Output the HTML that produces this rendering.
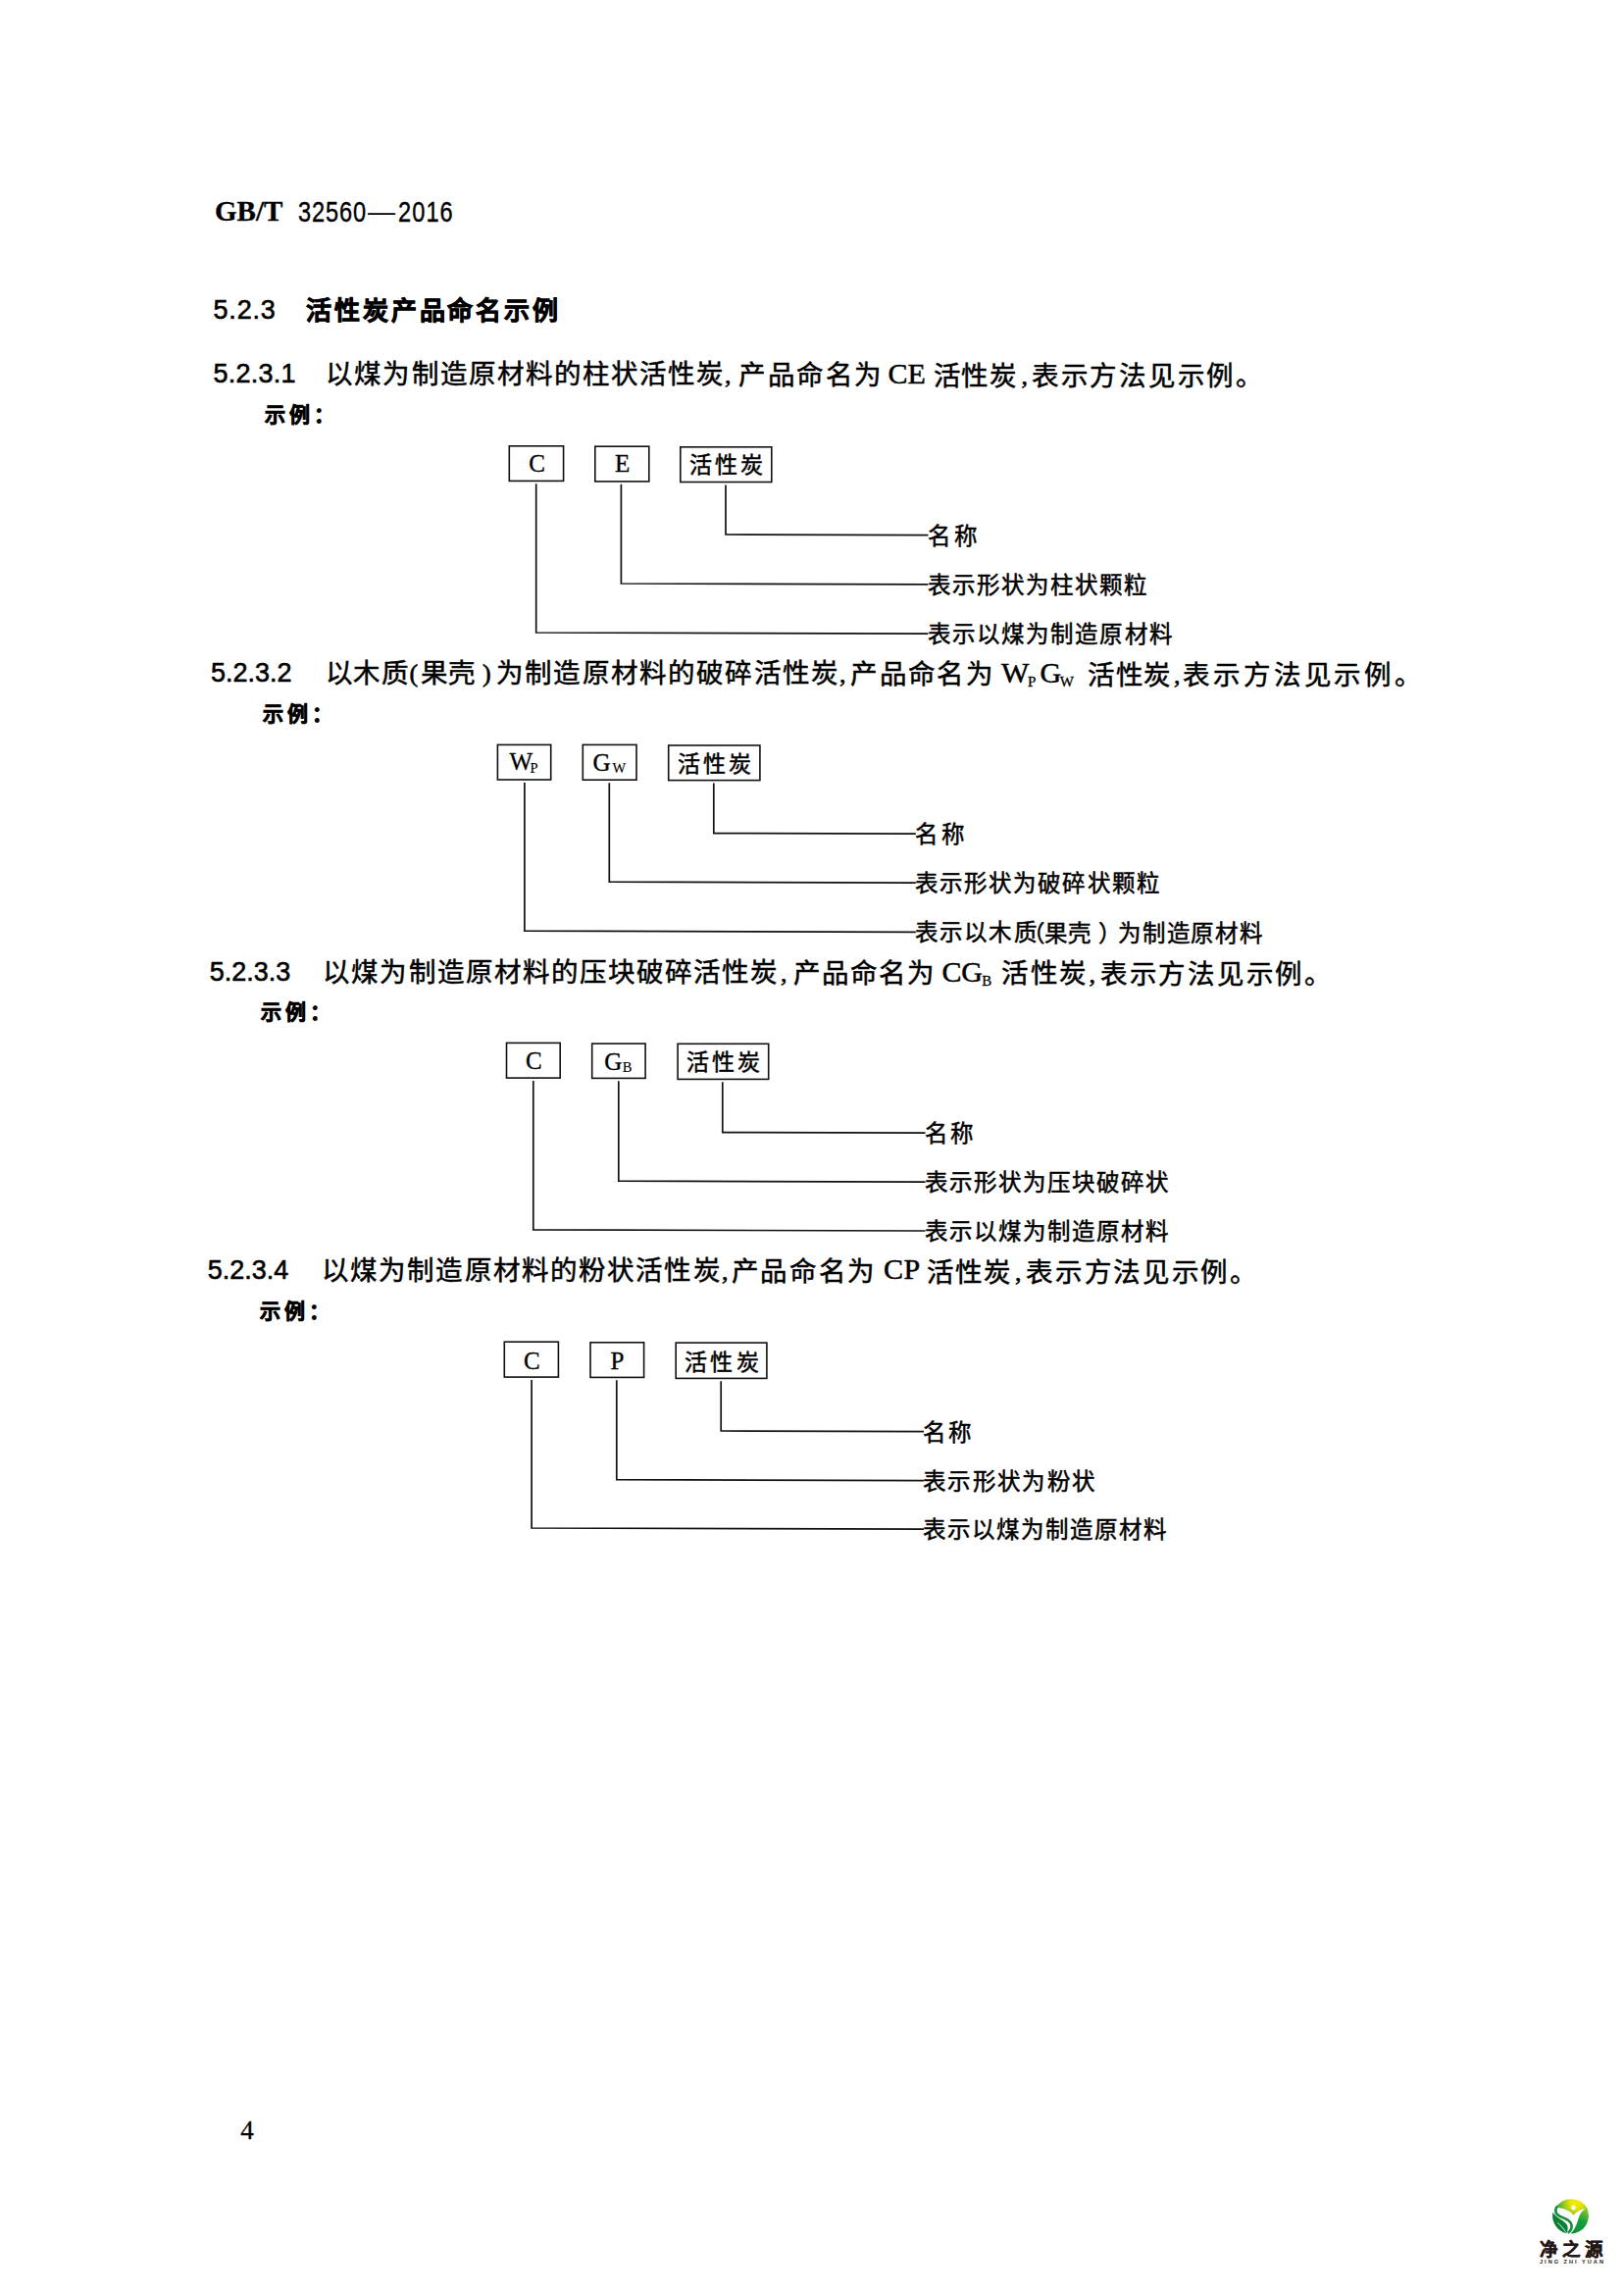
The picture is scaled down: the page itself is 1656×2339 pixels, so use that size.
<!DOCTYPE html>
<html lang="zh-CN"><head><meta charset="utf-8"><style>
html,body{margin:0;padding:0;background:#fff;}
body{width:1656px;height:2339px;position:relative;overflow:hidden;}
div{position:absolute;white-space:nowrap;color:#000;line-height:1;}
.gbt{font-family:"Liberation Serif",serif;font-weight:bold;font-size:29px;-webkit-text-stroke:0.3px #000;}
.gbn{font-family:"Liberation Sans",sans-serif;font-size:29.5px;-webkit-text-stroke:0.4px #000;transform:scaleX(0.8);transform-origin:0 0;}
.gbd{font-family:"Liberation Sans",sans-serif;font-size:28px;}
.num{font-family:"Liberation Sans",sans-serif;font-size:27px;-webkit-text-stroke:0.6px #000;}
.head{font-family:"Liberation Sans",sans-serif;font-size:26px;font-weight:bold;letter-spacing:3px;-webkit-text-stroke:0.7px #000;}
.ex{font-family:"Liberation Sans",sans-serif;font-size:21px;font-weight:bold;letter-spacing:4px;-webkit-text-stroke:0.7px #000;}
.body{font-family:"Liberation Serif",serif;font-size:27.5px;letter-spacing:1.5px;-webkit-text-stroke:0.5px #000;}
.comma,.paren{font-family:"Liberation Serif",serif;font-size:26px;-webkit-text-stroke:0.6px #000;}
.lat{font-family:"Liberation Serif",serif;font-size:30px;-webkit-text-stroke:0.5px #000;}
.sub{font-family:"Liberation Serif",serif;font-size:15px;-webkit-text-stroke:0.3px #000;}
.label{font-family:"Liberation Serif",serif;font-size:23.5px;letter-spacing:1.2px;-webkit-text-stroke:0.5px #000;}
.blat{font-family:"Liberation Serif",serif;font-size:25px;-webkit-text-stroke:0.35px #000;}
.bsub{font-family:"Liberation Serif",serif;font-size:14.5px;-webkit-text-stroke:0.15px #000;}
.bcjk{font-family:"Liberation Serif",serif;font-size:23px;letter-spacing:1.5px;-webkit-text-stroke:0.5px #000;}
.r{background:#111;}
.bx{border:2px solid #111;}
.lgc{font-family:"Liberation Sans",sans-serif;font-size:18.5px;font-weight:bold;color:#231815;letter-spacing:2.5px;-webkit-text-stroke:0.4px #231815;}
.lge{font-family:"Liberation Sans",sans-serif;font-size:5.6px;font-weight:bold;color:#231815;letter-spacing:2px;}
.pg{font-family:"Liberation Serif",serif;font-size:27px;-webkit-text-stroke:0.3px #000;}
</style></head><body>
<div class="gbt" style="left:219.0px;top:201.0px;">GB/T</div>
<div class="gbn" style="left:304.0px;top:201.0px;letter-spacing:1.10px;">32560</div>
<div class="gbd" style="left:375.0px;top:202.0px;">—</div>
<div class="gbn" style="left:406.0px;top:201.0px;letter-spacing:1.33px;">2016</div>
<div class="num" style="left:217.5px;top:303.0px;letter-spacing:0.83px;">5.2.3</div>
<div class="head" style="left:312.0px;top:303.5px;letter-spacing:2.88px;">活性炭产品命名示例</div>
<div class="num" style="left:217.5px;top:368.0px;letter-spacing:0.25px;">5.2.3.1</div>
<div class="ex" style="left:269.7px;top:411.6px;">示例：</div>
<div class="body" style="left:332.4px;top:368.3px;letter-spacing:2.05px;">以煤为制造原材料的柱状活性炭</div>
<div class="comma" style="left:739.0px;top:370.4px;">,</div>
<div class="body" style="left:753.0px;top:369.4px;letter-spacing:2.60px;">产品命名为</div>
<div class="lat" style="left:905.5px;top:366.1px;letter-spacing:0.10px;">CE</div>
<div class="body" style="left:951.7px;top:370.0px;letter-spacing:1.65px;">活性炭</div>
<div class="comma" style="left:1041.6px;top:371.3px;">,</div>
<div class="body" style="left:1052.0px;top:370.3px;letter-spacing:2.71px;">表示方法见示例。</div>
<div class="blat" style="left:539.3px;top:459.6px;">C</div>
<div class="blat" style="left:627.0px;top:460.0px;">E</div>
<div class="bcjk" style="left:703.0px;top:463.0px;letter-spacing:3.00px;">活性炭</div>
<div class="label" style="left:945.9px;top:636.1px;letter-spacing:2.08px;">表示以煤为制造原材料</div>
<div class="label" style="left:945.9px;top:585.9px;letter-spacing:2.06px;">表示形状为柱状颗粒</div>
<div class="label" style="left:945.9px;top:535.6px;letter-spacing:4.00px;">名称</div>
<div class="num" style="left:215.0px;top:673.0px;">5.2.3.2</div>
<div class="ex" style="left:267.7px;top:717.0px;">示例：</div>
<div class="body" style="left:331.8px;top:672.8px;letter-spacing:1.50px;">以木质</div>
<div class="paren" style="left:417.5px;top:674.1px;">(</div>
<div class="body" style="left:428.6px;top:673.1px;">果壳</div>
<div class="paren" style="left:492.0px;top:674.3px;">)</div>
<div class="body" style="left:506.0px;top:673.3px;letter-spacing:2.17px;">为制造原材料的破碎活性炭</div>
<div class="comma" style="left:856.0px;top:675.3px;">,</div>
<div class="body" style="left:867.4px;top:674.3px;letter-spacing:2.35px;">产品命名为</div>
<div class="lat" style="left:1020.9px;top:671.1px;">W</div>
<div class="sub" style="left:1048.0px;top:688.1px;">P</div>
<div class="lat" style="left:1060.6px;top:671.2px;">G</div>
<div class="sub" style="left:1080.7px;top:688.2px;">W</div>
<div class="body" style="left:1108.6px;top:675.0px;letter-spacing:1.95px;">活性炭</div>
<div class="comma" style="left:1197.0px;top:676.2px;">,</div>
<div class="body" style="left:1206.0px;top:675.3px;letter-spacing:3.90px;">表示方法见示例。</div>
<div class="blat" style="left:519.6px;top:764.0px;">W</div>
<div class="bsub" style="left:540.5px;top:776.0px;">P</div>
<div class="blat" style="left:604.5px;top:765.0px;">G</div>
<div class="bsub" style="left:624.6px;top:776.0px;">W</div>
<div class="bcjk" style="left:691.0px;top:768.0px;letter-spacing:3.00px;">活性炭</div>
<div class="label" style="left:933.0px;top:940.3px;letter-spacing:2.13px;">表示以木质</div>
<div class="label" style="left:1042.0px;top:940.7px;">（</div>
<div class="label" style="left:1065.0px;top:940.7px;">果壳</div>
<div class="label" style="left:1120.0px;top:940.8px;">）</div>
<div class="label" style="left:1140.0px;top:940.9px;letter-spacing:1.80px;">为制造原材料</div>
<div class="label" style="left:933.0px;top:890.1px;letter-spacing:2.08px;">表示形状为破碎状颗粒</div>
<div class="label" style="left:933.0px;top:840.2px;letter-spacing:4.20px;">名称</div>
<div class="num" style="left:213.8px;top:978.0px;">5.2.3.3</div>
<div class="ex" style="left:266.0px;top:1020.7px;">示例：</div>
<div class="body" style="left:329.3px;top:977.5px;letter-spacing:2.08px;">以煤为制造原材料的压块破碎活性炭</div>
<div class="comma" style="left:796.0px;top:979.8px;">,</div>
<div class="body" style="left:808.6px;top:978.8px;letter-spacing:2.05px;">产品命名为</div>
<div class="lat" style="left:960.4px;top:976.0px;letter-spacing:-0.20px;">CG</div>
<div class="sub" style="left:1001.2px;top:993.1px;">B</div>
<div class="body" style="left:1021.4px;top:979.4px;letter-spacing:2.25px;">活性炭</div>
<div class="comma" style="left:1110.6px;top:980.6px;">,</div>
<div class="body" style="left:1122.0px;top:979.7px;letter-spacing:2.71px;">表示方法见示例。</div>
<div class="blat" style="left:536.0px;top:1069.0px;">C</div>
<div class="blat" style="left:616.3px;top:1069.6px;">G</div>
<div class="bsub" style="left:634.8px;top:1081.3px;">B</div>
<div class="bcjk" style="left:700.0px;top:1072.0px;letter-spacing:3.00px;">活性炭</div>
<div class="label" style="left:943.2px;top:1245.0px;letter-spacing:2.01px;">表示以煤为制造原材料</div>
<div class="label" style="left:943.2px;top:1195.1px;letter-spacing:2.01px;">表示形状为压块破碎状</div>
<div class="label" style="left:943.2px;top:1145.2px;letter-spacing:3.00px;">名称</div>
<div class="num" style="left:211.8px;top:1282.3px;">5.2.3.4</div>
<div class="ex" style="left:264.5px;top:1325.7px;">示例：</div>
<div class="body" style="left:328.0px;top:1282.1px;letter-spacing:2.12px;">以煤为制造原材料的粉状活性炭</div>
<div class="comma" style="left:736.0px;top:1284.2px;">,</div>
<div class="body" style="left:745.8px;top:1283.2px;letter-spacing:2.65px;">产品命名为</div>
<div class="lat" style="left:901.0px;top:1279.3px;letter-spacing:0.50px;">CP</div>
<div class="body" style="left:945.4px;top:1283.8px;letter-spacing:1.95px;">活性炭</div>
<div class="comma" style="left:1035.0px;top:1285.1px;">,</div>
<div class="body" style="left:1046.3px;top:1284.1px;letter-spacing:2.66px;">表示方法见示例。</div>
<div class="blat" style="left:534.0px;top:1374.6px;">C</div>
<div class="blat" style="left:622.4px;top:1374.6px;">P</div>
<div class="bcjk" style="left:698.0px;top:1378.0px;letter-spacing:3.30px;">活性炭</div>
<div class="label" style="left:941.0px;top:1549.1px;letter-spacing:2.04px;">表示以煤为制造原材料</div>
<div class="label" style="left:941.0px;top:1499.6px;letter-spacing:2.32px;">表示形状为粉状</div>
<div class="label" style="left:941.0px;top:1449.6px;letter-spacing:3.30px;">名称</div>
<div class="pg" style="left:245.3px;top:2158.5px;">4</div>
<div class="lgc" style="left:1569.6px;top:2285.2px;letter-spacing:4.45px;">净之源</div>
<div class="lge" style="left:1570.0px;top:2304.0px;letter-spacing:2.00px;">JING ZHI YUAN</div>
<svg style="position:absolute;left:0;top:0" width="1656" height="2339" viewBox="0 0 1656 2339"><rect x="519.30" y="454.80" width="55.30" height="35.60" fill="none" stroke="#111" stroke-width="1.60"/><rect x="606.80" y="455.20" width="55.00" height="35.70" fill="none" stroke="#111" stroke-width="1.60"/><rect x="693.80" y="455.80" width="93.00" height="35.70" fill="none" stroke="#111" stroke-width="1.60"/><polyline points="546.7,494.2 546.7,645.0 945.6,646.1" fill="none" stroke="#111" stroke-width="1.70" stroke-linejoin="miter" stroke-linecap="square"/><polyline points="633.4,494.7 633.4,595.0 945.6,595.9" fill="none" stroke="#111" stroke-width="1.70" stroke-linejoin="miter" stroke-linecap="square"/><polyline points="740.0,495.3 740.0,545.0 945.6,545.6" fill="none" stroke="#111" stroke-width="1.70" stroke-linejoin="miter" stroke-linecap="square"/><rect x="507.40" y="759.40" width="54.30" height="35.60" fill="none" stroke="#111" stroke-width="1.60"/><rect x="594.30" y="759.40" width="54.70" height="35.80" fill="none" stroke="#111" stroke-width="1.60"/><rect x="681.70" y="760.00" width="93.20" height="35.60" fill="none" stroke="#111" stroke-width="1.60"/><polyline points="534.9,798.8 534.9,949.2 933.0,950.3" fill="none" stroke="#111" stroke-width="1.70" stroke-linejoin="miter" stroke-linecap="square"/><polyline points="621.3,799.0 621.3,899.2 933.0,900.1" fill="none" stroke="#111" stroke-width="1.70" stroke-linejoin="miter" stroke-linecap="square"/><polyline points="727.8,799.4 727.8,849.6 933.0,850.2" fill="none" stroke="#111" stroke-width="1.70" stroke-linejoin="miter" stroke-linecap="square"/><rect x="516.50" y="1063.40" width="54.70" height="35.70" fill="none" stroke="#111" stroke-width="1.60"/><rect x="603.70" y="1064.10" width="54.40" height="35.30" fill="none" stroke="#111" stroke-width="1.60"/><rect x="691.10" y="1064.30" width="92.60" height="36.10" fill="none" stroke="#111" stroke-width="1.60"/><polyline points="543.8,1102.9 543.8,1253.9 942.7,1255.0" fill="none" stroke="#111" stroke-width="1.70" stroke-linejoin="miter" stroke-linecap="square"/><polyline points="630.8,1103.2 630.8,1204.2 942.7,1205.1" fill="none" stroke="#111" stroke-width="1.70" stroke-linejoin="miter" stroke-linecap="square"/><polyline points="736.8,1104.2 736.8,1154.6 942.7,1155.2" fill="none" stroke="#111" stroke-width="1.70" stroke-linejoin="miter" stroke-linecap="square"/><rect x="514.30" y="1368.20" width="55.10" height="35.90" fill="none" stroke="#111" stroke-width="1.60"/><rect x="602.00" y="1368.80" width="54.60" height="35.60" fill="none" stroke="#111" stroke-width="1.60"/><rect x="689.20" y="1369.10" width="92.70" height="36.30" fill="none" stroke="#111" stroke-width="1.60"/><polyline points="542.1,1407.9 542.1,1558.0 941.2,1559.1" fill="none" stroke="#111" stroke-width="1.70" stroke-linejoin="miter" stroke-linecap="square"/><polyline points="628.8,1408.2 628.8,1508.7 941.2,1509.6" fill="none" stroke="#111" stroke-width="1.70" stroke-linejoin="miter" stroke-linecap="square"/><polyline points="735.2,1409.2 735.2,1459.0 941.2,1459.6" fill="none" stroke="#111" stroke-width="1.70" stroke-linejoin="miter" stroke-linecap="square"/></svg>
<svg style="position:absolute;left:1570px;top:2230px" width="60" height="55" viewBox="1570 2230 60 55">
<defs>
<radialGradient id="gy" gradientUnits="userSpaceOnUse" cx="1607" cy="2246" r="20"><stop offset="0" stop-color="#f7ea00"/><stop offset="0.3" stop-color="#e6e400"/><stop offset="0.65" stop-color="#8cc62a"/><stop offset="1" stop-color="#2f9e3a"/></radialGradient>
<linearGradient id="gr" gradientUnits="userSpaceOnUse" x1="1616" y1="2252" x2="1603" y2="2277"><stop offset="0" stop-color="#8cc82a"/><stop offset="0.45" stop-color="#16a03c"/><stop offset="1" stop-color="#0d8c3a"/></linearGradient>
</defs>
<path d="M1586.3 2251.5 A18.3 18.3 0 0 1 1618.5 2252 L1613.9 2252.6 C1610 2254 1606 2256.5 1604.5 2258.7 C1602.5 2256 1598 2253 1593 2251.8 C1590.5 2251.2 1589 2250.5 1588.2 2249.9 Z" fill="url(#gy)"/>
<path d="M1588.3 2249.4 C1585 2252.5 1585.6 2257.8 1591 2260 C1597 2262.4 1602.3 2264.5 1602.6 2269.5 C1602.8 2272.8 1600.8 2275.3 1598.8 2276.8" fill="none" stroke="#178e3c" stroke-width="2.6"/>
<path d="M1583.4 2255.8 A18.3 18.3 0 0 0 1597.2 2277 C1598.8 2275 1599 2271.5 1598.2 2269.3 C1597 2266.5 1594 2264.5 1590 2262 C1587 2260 1585 2258 1583.4 2255.8 Z" fill="#0c7f37"/>
<path d="M1588.5 2266.3 C1591 2269 1594.5 2272.5 1596.5 2275.5" fill="none" stroke="#fff" stroke-width="0.9"/>
<path d="M1618.3 2251.6 A18.3 18.3 0 0 1 1601.5 2277.5 C1604 2275.5 1606.5 2271 1608.3 2266 C1609.8 2261.5 1610.8 2257.5 1613.5 2254.5 C1615 2253 1616.5 2252.2 1618.3 2251.6 Z" fill="url(#gr)"/>
<circle cx="1604.5" cy="2250.9" r="2.3" fill="#fff"/>
</svg>
</body></html>
